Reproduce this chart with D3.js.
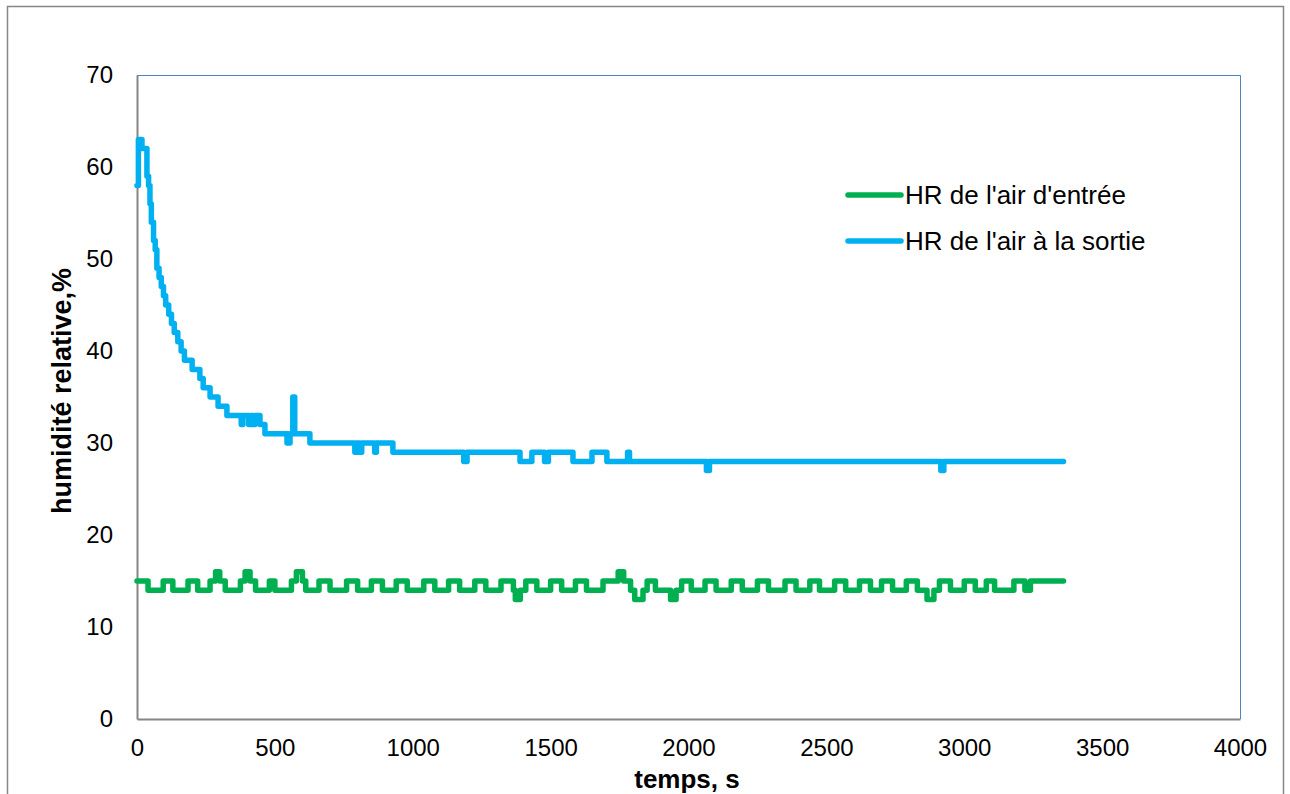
<!DOCTYPE html>
<html>
<head>
<meta charset="utf-8">
<script src="https://cdn.jsdelivr.net/npm/d3@7"></script>
<style>
  body { margin: 0; background: #fff; }
  svg { font-family: "Liberation Sans", Arial, sans-serif; }
</style>
</head>
<body>
<svg id="chart" width="1290" height="794"></svg>
<script>
/* Series labels */
var seriesNames = ["HR de l'air d'entrée", "HR de l'air à la sortie"];

/* Inlet air RH: [time s, value %] at each change (step) */
var inletData = [
  [0,15],[40,14],[95,15],[130,14],[185,15],[220,14],[265,15],[285,16],[300,15],[320,14],
  [375,15],[392,16],[410,15],[430,14],[480,15],[500,14],[560,15],[578,16],[600,15],[612,14],
  [660,15],[700,14],[760,15],[800,14],[850,15],[890,14],[940,15],[980,14],[1040,15],[1080,14],
  [1130,15],[1170,14],[1225,15],[1265,14],[1320,15],[1365,14],[1372,13],[1390,14],[1410,15],[1450,14],
  [1500,15],[1540,14],[1590,15],[1630,14],[1690,15],[1745,16],[1765,15],[1790,14],[1805,13],[1835,14],
  [1850,15],[1880,14],[1935,13],[1955,14],[1975,15],[2010,14],[2060,15],[2100,14],[2155,15],[2195,14],
  [2250,15],[2290,14],[2350,15],[2390,14],[2440,15],[2475,14],[2530,15],[2570,14],[2620,15],[2660,14],
  [2700,15],[2740,14],[2790,15],[2830,14],[2865,13],[2890,14],[2910,15],[2950,14],[3000,15],[3040,14],
  [3080,15],[3110,14],[3180,15],[3220,14],[3240,15],[3360,15]
];

/* Outlet air RH: [time s, value %] at each change (step) */
var outletData = [
  [0,58],[5,63],[18,62],[36,59],[42,58],[47,56],[52,54],[60,52],[66,51],[72,49],
  [80,48],[88,47],[96,46],[104,45],[115,44],[125,43],[135,42],[148,41],[160,40],[172,39],
  [200,38],[228,37],[240,36],[265,35],[294,34],[326,33],[378,32],[384,33],[405,32],[412,33],
  [420,32],[428,33],[446,32],[464,31],[544,30],[555,31],[565,35],[572,31],[627,30],[790,29],
  [800,30],[808,29],[815,30],[862,29],[868,30],[928,29],[1185,28],[1197,29],[1389,28],[1432,29],
  [1478,28],[1492,29],[1581,28],[1650,29],[1704,28],[1779,29],[1786,28],[2065,27],[2076,28],[2915,27],
  [2926,28],[3360,28]
];

/* Axis ticks */
var xTicks = [0, 500, 1000, 1500, 2000, 2500, 3000, 3500, 4000];
var yTicks = [0, 10, 20, 30, 40, 50, 60, 70];

var svg = d3.select("#chart");

/* Outer chart frame */
svg.append("rect")
  .attr("x", 7.5).attr("y", 6.5)
  .attr("width", 1276).attr("height", 800)
  .attr("fill", "none")
  .attr("stroke", "#868686")
  .attr("stroke-width", 1.5);

/* Plot area bounds */
var plotLeft = 137, plotRight = 1240, plotTop = 75, plotBottom = 719;

var x = d3.scaleLinear().domain([0, 4000]).range([plotLeft, plotRight]);
var y = d3.scaleLinear().domain([0, 70]).range([plotBottom, plotTop]);

/* Plot area border (top and right) */
svg.append("path")
  .attr("d", "M" + plotLeft + "," + (plotTop + 0.5) + "H" + (plotRight + 0.5) + "V" + plotBottom)
  .attr("fill", "none")
  .attr("stroke", "#4f81bd")
  .attr("stroke-width", 1);

/* Axes */
var xAxis = svg.append("g")
  .attr("transform", "translate(0," + plotBottom + ")")
  .call(d3.axisBottom(x).tickValues(xTicks).tickFormat(d3.format("d")).tickSize(0).tickPadding(20));
var yAxis = svg.append("g")
  .attr("transform", "translate(" + plotLeft + ",0)")
  .call(d3.axisLeft(y).tickValues(yTicks).tickFormat(d3.format("d")).tickSize(0).tickPadding(24));

[xAxis, yAxis].forEach(function(g) {
  g.select(".domain").attr("stroke", "#868686").attr("stroke-width", 2);
  g.selectAll("text")
    .attr("font-family", "Liberation Sans, Arial, sans-serif")
    .attr("font-size", 24)
    .attr("fill", "#000");
});

/* Axis titles */
svg.append("text")
  .attr("x", 687).attr("y", 788)
  .attr("text-anchor", "middle")
  .attr("font-size", 26).attr("font-weight", "bold")
  .text("temps, s");

svg.append("text")
  .attr("transform", "translate(71,391) rotate(-90)")
  .attr("text-anchor", "middle")
  .attr("font-size", 27).attr("font-weight", "bold")
  .text("humidité relative,%");

/* Series lines */
var line = d3.line()
  .x(function(d) { return x(d[0]); })
  .y(function(d) { return y(d[1]); })
  .curve(d3.curveStepAfter);

var series = [
  { data: inletData, color: "#00b050" },
  { data: outletData, color: "#00b0f0" }
];

series.forEach(function(s) {
  svg.append("path")
    .datum(s.data)
    .attr("d", line)
    .attr("fill", "none")
    .attr("stroke", s.color)
    .attr("stroke-width", 5.5)
    .attr("stroke-linejoin", "round")
    .attr("stroke-linecap", "round");
});

/* Legend */
var legend = svg.append("g").attr("transform", "translate(848,195)");
series.forEach(function(s, i) {
  legend.append("line")
    .attr("x1", 0).attr("x2", 53)
    .attr("y1", i * 46).attr("y2", i * 46)
    .attr("stroke", s.color)
    .attr("stroke-width", 5.5)
    .attr("stroke-linecap", "round");
  legend.append("text")
    .attr("x", 57).attr("y", i * 46)
    .attr("dy", "0.35em")
    .attr("font-size", 26)
    .text(seriesNames[i]);
});
</script>
</body>
</html>
